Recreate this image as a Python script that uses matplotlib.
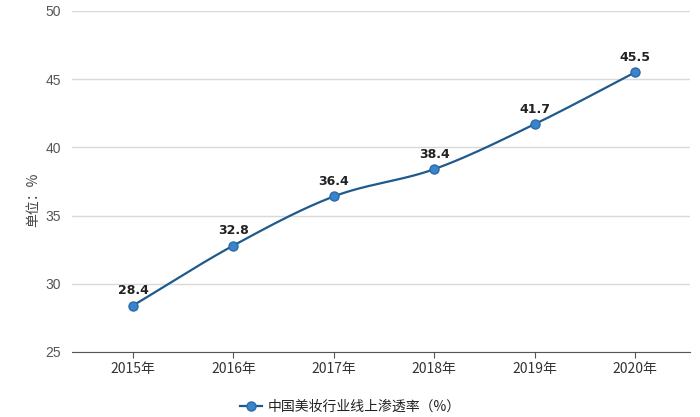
import numpy as np
import matplotlib
matplotlib.use("Agg")
import matplotlib.pyplot as plt
from matplotlib.lines import Line2D

plt.rcParams['font.family'] = ['Noto Sans CJK SC', 'DejaVu Sans']

years = ["2015年", "2016年", "2017年", "2018年", "2019年", "2020年"]
values = [28.4, 32.8, 36.4, 38.4, 41.7, 45.5]
series_name = "中国美妆行业线上渗透率（%）"
y_ticks = [25, 30, 35, 40, 45, 50]

line_color = "#1f5a8c"
marker_color = "#3b84cc"

fig = plt.figure(figsize=(7.0, 4.17), dpi=100)
ax = fig.add_axes([0.103, 0.156, 0.883, 0.818])

x = np.arange(len(years), dtype=float)
y = np.array(values, dtype=float)

# smooth curve (Catmull-Rom style hermite) through the data points
def smooth(xp, yp, n=30):
    m = np.zeros_like(yp)
    m[1:-1] = (yp[2:] - yp[:-2]) / (xp[2:] - xp[:-2])
    m[0] = yp[1] - yp[0]
    m[-1] = yp[-1] - yp[-2]
    xs, ys = [], []
    for i in range(len(xp) - 1):
        t = np.linspace(0, 1, n)
        h = xp[i + 1] - xp[i]
        h00 = 2 * t**3 - 3 * t**2 + 1
        h10 = t**3 - 2 * t**2 + t
        h01 = -2 * t**3 + 3 * t**2
        h11 = t**3 - t**2
        xs.append(xp[i] + t * h)
        ys.append(h00 * yp[i] + h10 * h * m[i] + h01 * yp[i + 1] + h11 * h * m[i + 1])
    return np.concatenate(xs), np.concatenate(ys)

sx, sy = smooth(x, y)
ax.plot(sx, sy, color=line_color, lw=1.6, zorder=3)
ax.plot(x, y, ls='none', marker='o', ms=6.5, mfc=marker_color, mec="#2a6aa8", mew=1, zorder=4)

for xi, yi in zip(x, y):
    ax.annotate(f"{yi:.1f}", (xi, yi), xytext=(0, 6), textcoords='offset points',
                ha='center', va='bottom', fontsize=9, fontweight='bold', color='#222222',
                family=['DejaVu Sans'])

ax.set_xlim(-0.606, 5.547)
ax.set_ylim(25, 50)
ax.set_yticks(y_ticks)
ax.set_xticks(x)
ax.set_xticklabels(years)
ax.grid(axis='y', color='#d9d9d9', lw=1)
ax.set_axisbelow(True)
for s in ['top', 'right', 'left']:
    ax.spines[s].set_visible(False)
ax.spines['bottom'].set_color('#555555')
ax.tick_params(axis='y', length=0, labelsize=10, labelcolor='#555555', pad=8)
ax.tick_params(axis='x', length=4, color='#555555', labelsize=10, labelcolor='#333333', pad=3)
for lab in ax.get_yticklabels():
    lab.set_family(['Liberation Sans', 'DejaVu Sans'])

fig.text(0.047, 0.52, "单位：%", rotation=90, ha='center', va='center', fontsize=10, color='#444444')

handle = Line2D([], [], color=line_color, lw=1.6, marker='o', ms=6.5, mfc=marker_color, mec="#2a6aa8")
fig.legend([handle], [series_name], loc='center', bbox_to_anchor=(0.5, 0.025), frameon=False,
           fontsize=10, handlelength=1.6, handletextpad=0.4, labelcolor='#222222')

fig.savefig("out.png", dpi=100)
